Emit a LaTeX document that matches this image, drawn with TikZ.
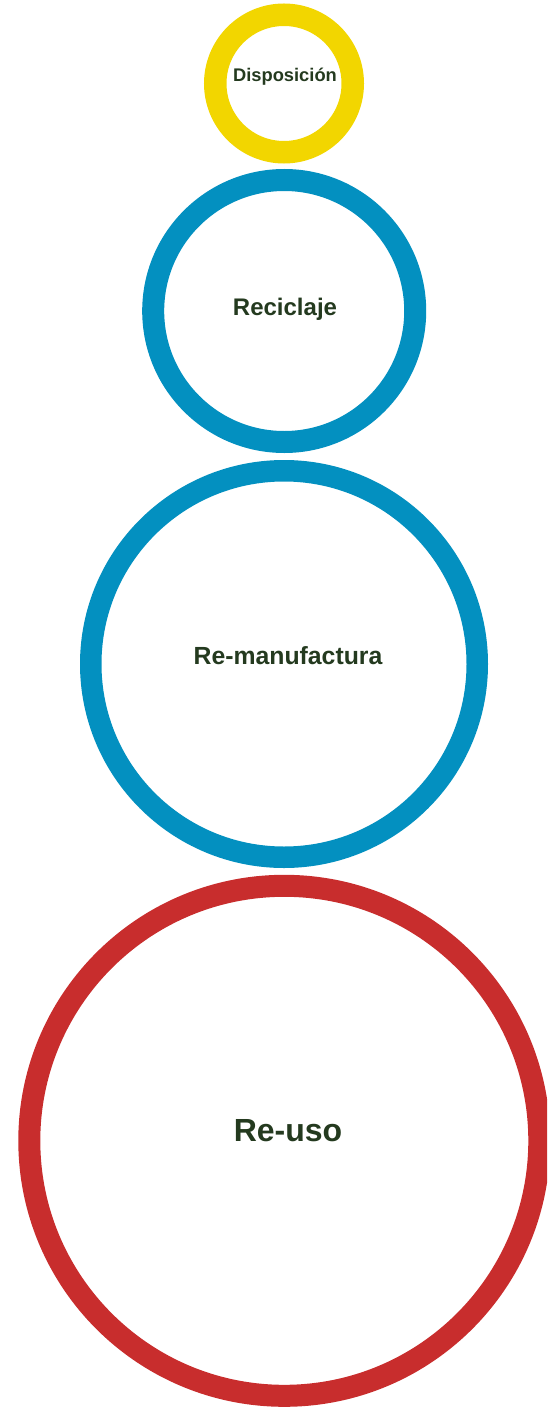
\documentclass[tikz,border=0pt]{standalone}
\usepackage{fontspec}
\setmainfont{Liberation Sans}
\definecolor{ringyellow}{HTML}{F2D600}
\definecolor{ringblue}{HTML}{0390C0}
\definecolor{ringred}{HTML}{C82D2D}
\definecolor{labelgreen}{HTML}{243A1F}
\begin{document}
\begin{tikzpicture}[x=1pt,y=-1pt,
  ring/.style={circle,draw,inner sep=0pt,outer sep=0pt},
  lbl/.style={anchor=base,text=labelgreen,font=\bfseries,inner sep=0pt}]
\useasboundingbox (0,0) rectangle (547,1407);
\clip (0,0) rectangle (547,1407);
\node[ring,draw=ringyellow,line width=22.5pt,minimum size=137.5pt] (c1) at (284,83.5) {};
\node[ring,draw=ringblue,line width=22pt,minimum size=262pt] (c2) at (284.2,311) {};
\node[ring,draw=ringblue,line width=21.5pt,minimum size=386.5pt] (c3) at (284,664) {};
\node[ring,draw=ringred,line width=22pt,minimum size=510pt] (c4) at (284.3,1140.8) {};
\node[lbl,font=\bfseries\fontsize{18.3}{20}\selectfont] (t1) at (285,81.7) {Disposición};
\node[lbl,font=\bfseries\fontsize{24}{28}\selectfont] (t2) at (285,315) {Reciclaje};
\node[lbl,font=\bfseries\fontsize{24.8}{28}\selectfont] (t3) at (288,664) {Re-manufactura};
\node[lbl,font=\bfseries\fontsize{32}{36}\selectfont] (t4) at (288,1141) {Re-uso};
\end{tikzpicture}
\end{document}
